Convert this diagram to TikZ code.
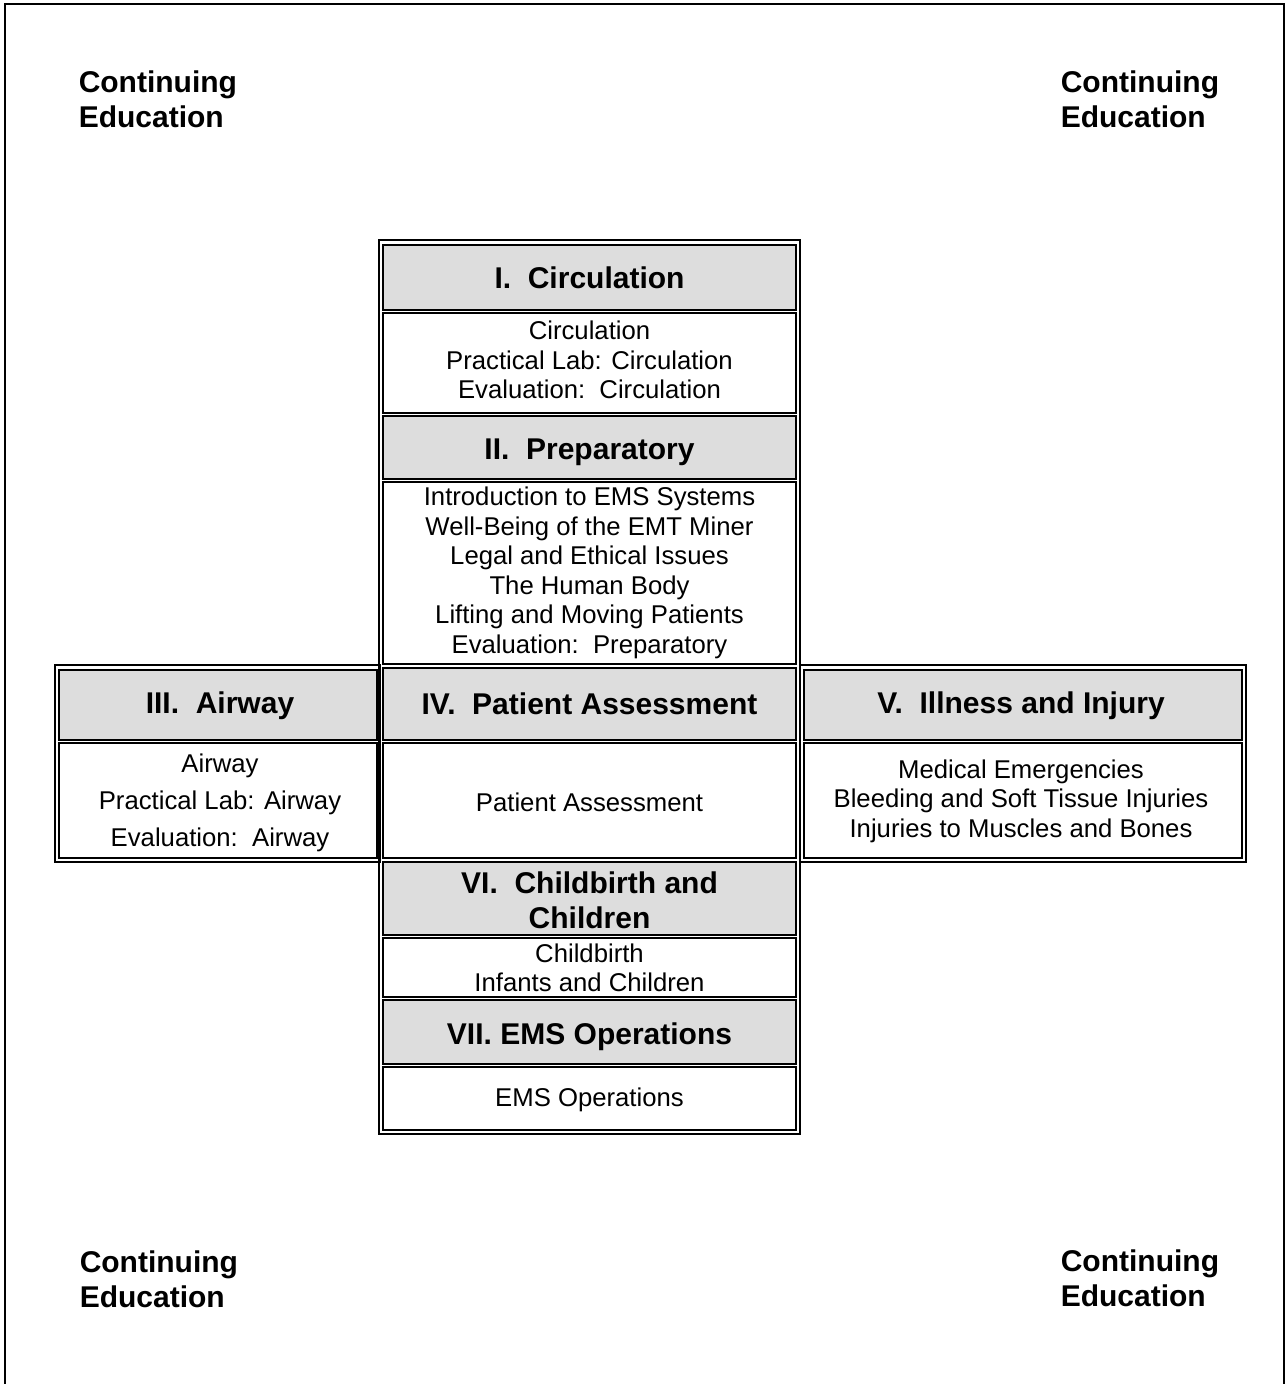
\documentclass[tikz,border=0pt]{standalone}
\usepackage{fontspec}
\setmainfont{Liberation Sans}
\definecolor{headgray}{HTML}{DDDDDD}
\definecolor{ink}{HTML}{000000}
\newcommand{\bodyfont}{\fontsize{12.85}{14.75}\selectfont}
\newcommand{\headfont}{\fontsize{15}{17.5}\selectfont\bfseries}

\begin{document}
\begin{tikzpicture}[x=0.5pt, y=-0.5pt, line width=0.75pt, draw=ink,
    headcell/.style={draw=ink, fill=headgray},
    bodycell/.style={draw=ink, fill=white},
    headtext/.style={font=\headfont, align=center, text=ink, inner sep=0pt},
    bodytext/.style={font=\bodyfont, align=center, text=ink, inner sep=0pt},
    cornertext/.style={font=\headfont, align=left, anchor=west, text=ink, inner sep=0pt}]
  \useasboundingbox (0,0) rectangle (1286,1384);
  % page frame, open at the bottom
  \draw[line width=1pt] (5,1384) |- (1284,4) -- (1284,1384);

  % corner labels
  \node[cornertext] (ce_nw) at (78,99.5) {Continuing\\Education};
  \node[cornertext] (ce_ne) at (1060,99) {Continuing\\Education};
  \node[cornertext] (ce_sw) at (79,1279.5) {Continuing\\Education};
  \node[cornertext] (ce_se) at (1060,1278.5) {Continuing\\Education};

  % table frames
  \draw (379,240) rectangle (800,1134);
  \draw (55,665) rectangle (380,862);
  \draw (800,665) rectangle (1246,862);

  % middle column cells
  \foreach \ya/\yb in {245/310, 416/479, 668/740, 862/935, 1000/1064}
    \draw[headcell] (383,\ya) rectangle (796,\yb);
  \foreach \ya/\yb in {313/413, 482/664, 743/858, 938/997, 1067/1130}
    \draw[bodycell] (383,\ya) rectangle (796,\yb);
  % side cells
  \draw[headcell] (59,670) rectangle (377,740);
  \draw[bodycell] (59,743) rectangle (377,858);
  \draw[headcell] (804,670) rectangle (1242,740);
  \draw[bodycell] (804,743) rectangle (1242,858);

  % I
  \node[headtext] (circ_head) at (589.5,277.5) {I.\ \ Circulation};
  \node[bodytext] (circ_body) at (589.5,360) {Circulation\\Practical Lab: Circulation\\Evaluation:\ \ Circulation};
  % II
  \node[headtext] (prep_head) at (589.5,452) {II.\ \ Preparatory};
  \node[bodytext] (prep_body) at (589.5,573) {Introduction to EMS Systems\\Well-Being of the EMT Miner\\Legal and Ethical Issues\\The Human Body\\Lifting and Moving Patients\\Evaluation:\ \ Preparatory};
  % III
  \node[headtext] (air_head) at (220,706) {III.\ \ Airway};
  \node[bodytext] (air_body) at (220,803) {Airway\\[3.75pt]Practical Lab: Airway\\[3.75pt]Evaluation:\ \ Airway};
  % IV
  \node[headtext] (pa_head) at (589.5,704) {IV.\ \ Patient Assessment};
  \node[bodytext] (pa_body) at (589.5,802) {Patient Assessment};
  % V
  \node[headtext] (ill_head) at (1021,706) {V.\ \ Illness and Injury};
  \node[bodytext] (ill_body) at (1021,801) {Medical Emergencies\\Bleeding and Soft Tissue Injuries\\Injuries to Muscles and Bones};
  % VI
  \node[headtext] (child_head) at (589.5,900) {VI.\ \ Childbirth and\\Children};
  \node[bodytext] (child_body) at (589.5,968) {Childbirth\\Infants and Children};
  % VII
  \node[headtext] (ops_head) at (589.5,1037) {VII. EMS Operations};
  \node[bodytext] (ops_body) at (589.5,1100) {EMS Operations};
\end{tikzpicture}
\end{document}
